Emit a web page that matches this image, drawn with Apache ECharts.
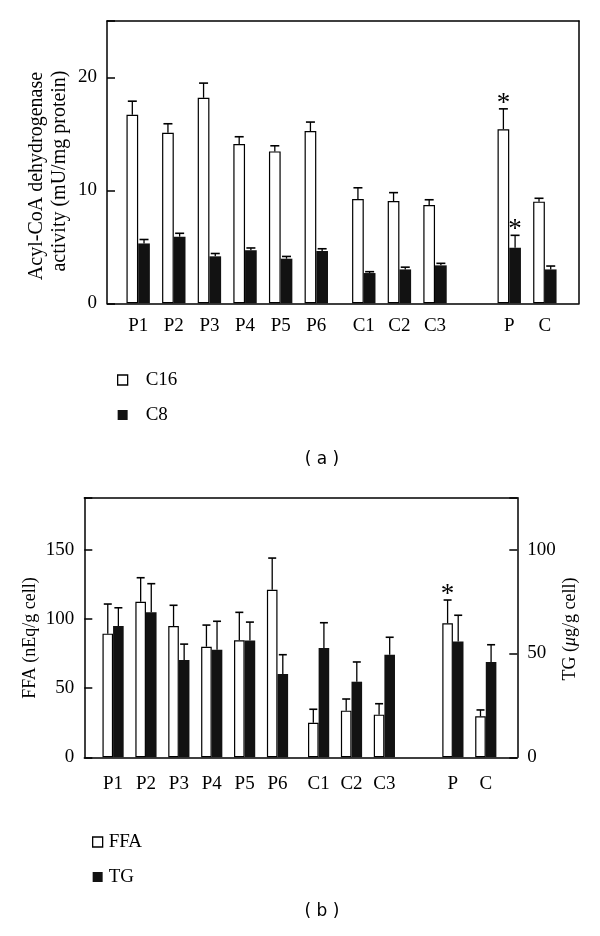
<!DOCTYPE html>
<html><head><meta charset="utf-8">
<script src="https://cdn.jsdelivr.net/npm/echarts@6/dist/echarts.min.js"></script>
<style>html,body{margin:0;padding:0;background:#fff}#c{width:600px;height:936px}</style>
</head><body><div id="c"></div>
<script>
// ---------- data ----------
const categories = ['P1','P2','P3','P4','P5','P6','C1','C2','C3','P','C'];
// (a) Acyl-CoA dehydrogenase activity (mU/mg protein)
const c16    = [16.7, 15.1, 18.2, 14.1, 13.45, 15.25, 9.23, 9.05, 8.7, 15.42, 9.0];
const c16Err = [1.2, 0.8, 1.3, 0.65, 0.5, 0.8, 1.0, 0.75, 0.47, 1.8, 0.3];
const c16Sig = ['','','','','','','','','','*',''];
const c8     = [5.3, 5.9, 4.16, 4.7, 3.95, 4.63, 2.68, 3.0, 3.36, 4.92, 3.0];
const c8Err  = [0.35, 0.3, 0.25, 0.2, 0.2, 0.2, 0.12, 0.2, 0.18, 1.1, 0.3];
const c8Sig  = ['','','','','','','','','','*',''];
// (b) FFA (nEq/g cell) and TG (µg/g cell)
const ffa    = [89.3, 112.4, 94.8, 79.9, 84.5, 121.0, 25.0, 33.7, 30.8, 96.8, 29.6];
const ffaErr = [21.4, 17.3, 15.0, 15.6, 20.2, 22.9, 9.7, 8.4, 7.9, 16.8, 4.6];
const ffaSig = ['','','','','','','','','','*',''];
const tg     = [63.2, 69.9, 46.8, 51.8, 56.3, 40.1, 52.6, 36.4, 49.4, 55.8, 45.9];
const tgErr  = [8.8, 13.7, 7.7, 13.7, 8.8, 9.3, 12.2, 9.5, 8.4, 12.6, 8.3];
const tgSig  = ['','','','','','','','','','',''];
const ticksA = [0, 10, 20];
const ticksFFA = [0, 50, 100, 150];
const ticksTG = [0, 50, 100];

// ---------- layout (slot grid of the category axes) ----------
const layoutA = {n: 159, pos: [10,22,34,46,58,70,86,98,110,135,147]};
const layoutB = {n: 158, pos: [10,22,34,46,58,70,85,97,109,134,146]};

const SERIF = 'Liberation Serif';
const BLACK = '#121212';

function slotLabels(L) { const a = new Array(L.n).fill(''); L.pos.forEach((p,i)=>{a[p]=categories[i];}); return a; }
function slotValues(L, vals) { const a = new Array(L.n).fill('-'); L.pos.forEach((p,i)=>{a[p]=vals[i];}); return a; }
function errValues(L, vals, errs) { return L.pos.map((p,i)=>[p, vals[i], errs[i]]); }

function errRender(side, barW, capW, sig) {
  return function(params, api) {
    const x = api.value(0), v = api.value(1), e = api.value(2);
    const base = api.coord([x, v]);
    const top = api.coord([x, v + e]);
    const cx = base[0] + side * barW / 2;
    const children = [
      {type:'line', shape:{x1:cx, y1:base[1], x2:cx, y2:top[1]}, style:{stroke:'#000', lineWidth:1.3}},
      {type:'line', shape:{x1:cx-capW/2, y1:top[1], x2:cx+capW/2, y2:top[1]}, style:{stroke:'#000', lineWidth:1.6}}
    ];
    const s = sig[params.dataIndex];
    if (s) {
      children.push({type:'text', style:{text:s, x:cx, y:top[1]-5, textAlign:'center', textVerticalAlign:'middle',
        font:'27px "Liberation Serif"', fill:'#000'}});
    }
    return {type:'group', children};
  };
}

const lineStyle = {color:'#000', width:1.5};
function frameX(gridIndex, pos) {
  return {type:'value', gridIndex, position:pos, min:0, max:1,
    axisLine:{show:true, onZero:false, lineStyle}, axisTick:{show:false}, axisLabel:{show:false}, splitLine:{show:false}};
}
function catX(gridIndex, L, margin) {
  return {type:'category', gridIndex, position:'bottom', data:slotLabels(L), boundaryGap:true,
    axisLine:{show:true, onZero:false, lineStyle}, axisTick:{show:false},
    axisLabel:{interval:0, margin, color:'#000', fontFamily:SERIF, fontSize:19, lineHeight:20},
    splitLine:{show:false}};
}
function valY(gridIndex, pos, max, interval, ticks, showLabels) {
  return {type:'value', gridIndex, position:pos, min:0, max, interval,
    axisLine:{show:true, onZero:false, lineStyle},
    axisTick:{show:showLabels, inside:true, length:8, lineStyle:{color:'#000', width:1.5}},
    axisLabel:{show:showLabels, margin:10, color:'#000', fontFamily:SERIF, fontSize:19,
      formatter: v => (ticks.indexOf(v) >= 0 ? String(v) : '')},
    splitLine:{show:false}};
}

const barWA = 11.7, barWB = 10.6;

const option = {
  animation:false,
  backgroundColor:'#fff',
  grid:[
    {left:107, top:21, width:472, height:282.3, containLabel:false, outerBoundsMode:'none'},
    {left:84.3, top:497.7, width:433, height:259.6, containLabel:false, outerBoundsMode:'none'}
  ],
  xAxis:[
    catX(0, layoutA, 13),
    frameX(0, 'top'),
    catX(1, layoutB, 17),
    frameX(1, 'top')
  ],
  yAxis:[
    valY(0, 'left', 25, 10, ticksA, true),
    {type:'value', gridIndex:0, position:'right', min:0, max:1, axisLine:{show:true, onZero:false, lineStyle},
      axisTick:{show:false}, axisLabel:{show:false}, splitLine:{show:false}},
    valY(1, 'left', 187.5, 50, ticksFFA, true),
    valY(1, 'right', 125, 50, ticksTG, true)
  ],
  legend:[
    {orient:'vertical', left:117, top:370, padding:0, itemWidth:10, itemHeight:10, itemGap:15, icon:'rect', selectedMode:false,
      textStyle:{color:'#000', fontFamily:SERIF, fontSize:19, lineHeight:20, padding:[0,0,0,13]},
      data:[{name:'C16', itemStyle:{color:'#fff', borderColor:'#000', borderWidth:1.3}},
            {name:'C8', itemStyle:{color:BLACK, borderColor:BLACK, borderWidth:0}}]},
    {orient:'vertical', left:92, top:832, padding:0, itemWidth:10, itemHeight:10, itemGap:15, icon:'rect', selectedMode:false,
      textStyle:{color:'#000', fontFamily:SERIF, fontSize:19, lineHeight:20, padding:[0,0,0,1]},
      data:[{name:'FFA', itemStyle:{color:'#fff', borderColor:'#000', borderWidth:1.3}},
            {name:'TG', itemStyle:{color:BLACK, borderColor:BLACK, borderWidth:0}}]}
  ],
  series:[
    {name:'C16', type:'bar', xAxisIndex:0, yAxisIndex:0, barWidth:barWA, barGap:'0%',
      itemStyle:{color:'#fff', borderColor:'#000', borderWidth:1.2}, data:slotValues(layoutA, c16)},
    {name:'C8', type:'bar', xAxisIndex:0, yAxisIndex:0, barWidth:barWA, barGap:'0%',
      itemStyle:{color:BLACK, borderColor:BLACK, borderWidth:0}, data:slotValues(layoutA, c8)},
    {name:'C16 error', type:'custom', xAxisIndex:0, yAxisIndex:0, renderItem:errRender(-1, barWA, 9, c16Sig),
      data:errValues(layoutA, c16, c16Err), z:5},
    {name:'C8 error', type:'custom', xAxisIndex:0, yAxisIndex:0, renderItem:errRender(1, barWA, 9, c8Sig),
      data:errValues(layoutA, c8, c8Err), z:5},

    {name:'FFA', type:'bar', xAxisIndex:2, yAxisIndex:2, barWidth:barWB, barGap:'0%',
      itemStyle:{color:'#fff', borderColor:'#000', borderWidth:1.2}, data:slotValues(layoutB, ffa)},
    {name:'TG', type:'bar', xAxisIndex:2, yAxisIndex:3, barWidth:barWB, barGap:'0%',
      itemStyle:{color:BLACK, borderColor:BLACK, borderWidth:0}, data:slotValues(layoutB, tg)},
    {name:'FFA error', type:'custom', xAxisIndex:2, yAxisIndex:2, renderItem:errRender(-1, barWB, 8, ffaSig),
      data:errValues(layoutB, ffa, ffaErr), z:5},
    {name:'TG error', type:'custom', xAxisIndex:2, yAxisIndex:3, renderItem:errRender(1, barWB, 8, tgSig),
      data:errValues(layoutB, tg, tgErr), z:5}
  ],
  graphic:[
    {type:'text', x:36.7, y:176, rotation:Math.PI/2,
      style:{text:'Acyl-CoA dehydrogenase', textAlign:'center', textVerticalAlign:'middle', font:'20px "Liberation Serif"', fill:'#000'}},
    {type:'text', x:60, y:171, rotation:Math.PI/2,
      style:{text:'activity (mU/mg protein)', textAlign:'center', textVerticalAlign:'middle', font:'20px "Liberation Serif"', fill:'#000'}},
    {type:'text', x:30.6, y:638, rotation:Math.PI/2,
      style:{text:'FFA (nEq/g cell)', textAlign:'center', textVerticalAlign:'middle', font:'18px "Liberation Serif"', fill:'#000'}},
    {type:'text', x:570, y:629, rotation:Math.PI/2,
      style:{text:'TG ({i|μ}g/g cell)', textAlign:'center', textVerticalAlign:'middle', font:'18px "Liberation Serif"', fill:'#000',
        rich:{i:{fontStyle:'italic', fontFamily:SERIF, fontSize:18, fill:'#000'}}}},
    {type:'text', x:322, y:460,
      style:{text:'( a )', textAlign:'center', textVerticalAlign:'middle', font:'17px "DejaVu Sans"', fill:'#000'}},
    {type:'text', x:322, y:912,
      style:{text:'( b )', textAlign:'center', textVerticalAlign:'middle', font:'17px "DejaVu Sans"', fill:'#000'}}
  ]
};

const chart = echarts.init(document.getElementById('c'), null, {renderer:'canvas'});
chart.setOption(option);
</script>
</body></html>
